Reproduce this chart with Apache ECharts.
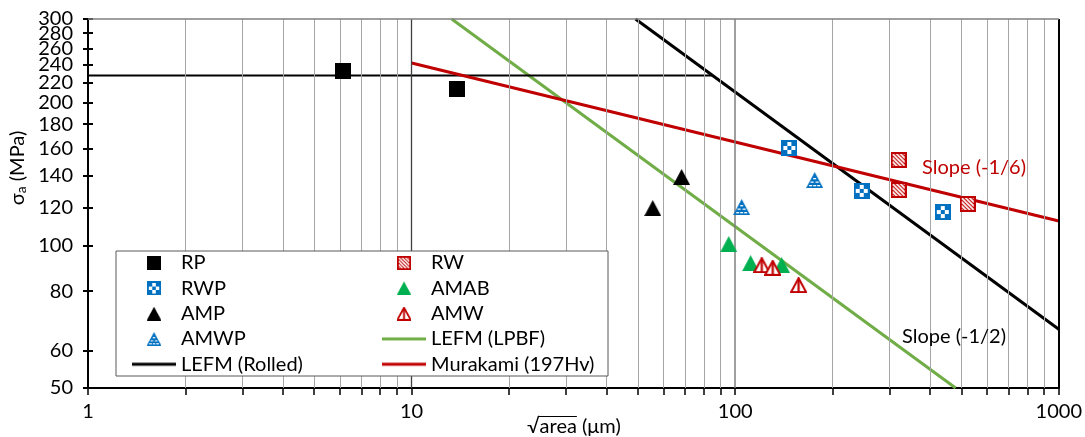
<!DOCTYPE html>
<html><head><meta charset="utf-8">
<script src="https://cdn.jsdelivr.net/npm/echarts@6/dist/echarts.min.js"></script>
<style>html,body{margin:0;padding:0;background:#fff}#c{width:1085px;height:437px}</style>
</head><body><div id="c"></div>
<script>
// ---- data ----
const xLabelValues = [1, 10, 100, 1000];
const xTickValues = [1,2,3,4,5,6,7,8,9,10,20,30,40,50,60,70,80,90,100,200,300,400,500,600,700,800,900,1000];
const xMinorGrid = [2,3,4,5,6,7,8,9,20,30,40,50,60,70,80,90,200,300,400,500,600,700,800,900];
const yTickValues = [50,60,80,100,120,140,160,180,200,220,240,260,280,300];

const RP   = [[6.12,233],[13.8,213.5]];
const RW   = [[320,151.3],[320,130.8],[523,122.2]];
const RWP  = [[147,160.4],[246,130.2],[438,117.5]];
const AMAB = [[95.5,100.6],[111.6,91.7],[139.2,90.8]];
const AMP  = [[55.6,119.8],[68.3,139.3]];
const AMW  = [[120.8,90.8],[130.6,89.6],[157,82.4]];
const AMWP = [[104.7,120.4],[176,137.3]];
const lefmLPBF   = [[13.3,300],[480,50]];
const rolledLimit = [[1,228],[85.2,228]];
const lefmRolled = [[49.2,300],[1000,66.5]];
const murakami   = [[10,242.3],[1000,112.5]];

// ---- styling ----
const FONT = 'Lato, "Open Sans", sans-serif';
const FS = 20;
const BLUE = '#0070C0', RED = '#C00000', GREEN = '#00B050', LGREEN = '#70AD47';

function icon(w, h, draw) {
  const c = document.createElement('canvas');
  c.width = w; c.height = h;
  const g = c.getContext('2d');
  draw(g, w, h);
  return 'image://' + c.toDataURL();
}
function tri(g, w, h, inset) {
  inset = inset || 0;
  g.beginPath();
  g.moveTo(w / 2, inset);
  g.lineTo(w - inset, h - inset);
  g.lineTo(inset, h - inset);
  g.closePath();
}
const symRP = icon(16, 16, (g) => { g.fillStyle = '#000'; g.fillRect(0, 0, 16, 16); });
const symAMP = icon(17, 16, (g, w, h) => { tri(g, w, h); g.fillStyle = '#000'; g.fill(); });
const symAMAB = icon(17, 16, (g, w, h) => { tri(g, w, h); g.fillStyle = GREEN; g.fill(); });
const symRWP = icon(16, 16, (g) => {
  g.fillStyle = BLUE; g.fillRect(0, 0, 16, 16);
  g.fillStyle = '#fff';
  for (let i = 0; i < 3; i++) for (let j = 0; j < 3; j++)
    if ((i + j) % 2 === 1) g.fillRect(2 + i * 4, 2 + j * 4, 4, 4);
});
const symRW = icon(16, 16, (g) => {
  g.fillStyle = RED; g.fillRect(0, 0, 16, 16);
  g.save(); g.beginPath(); g.rect(2, 2, 12, 12); g.clip();
  g.strokeStyle = '#fff'; g.lineWidth = 1.7;
  for (let k = -16; k <= 16; k += 4) { g.beginPath(); g.moveTo(k, 0); g.lineTo(k + 16, 16); g.stroke(); }
  g.restore();
});
const symAMWP = icon(17, 16, (g, w, h) => {
  tri(g, w, h); g.fillStyle = BLUE; g.fill();
  g.fillStyle = '#fff';
  g.fillRect(w / 2 - 1.5, 6, 3, 1.3);
  g.fillRect(w / 2 - 4, 9.5, 3, 1.3); g.fillRect(w / 2 + 1, 9.5, 3, 1.3);
  g.fillRect(w / 2 - 5.5, 13, 3, 1.3); g.fillRect(w / 2 - 1.5, 13, 3, 1.3); g.fillRect(w / 2 + 2.5, 13, 3, 1.3);
});
const symAMW = icon(17, 16, (g, w, h) => {
  tri(g, w, h, 1); g.fillStyle = '#fff'; g.fill();
  g.strokeStyle = RED; g.lineWidth = 2; g.lineJoin = 'miter'; g.stroke();
  g.fillStyle = RED; g.fillRect(w / 2 - 1.1, 2, 2.2, h - 3);
});
function lineIcon(color) {
  return icon(44, 14, (g, w, h) => { g.fillStyle = color; g.fillRect(0, 5.5, w, 3); });
}

// ---- axis name metrics ----
const mc = document.createElement('canvas').getContext('2d');
mc.font = FS + 'px ' + FONT;
const wSq = mc.measureText('\u221A').width, wArea = mc.measureText('area').width, wRest = mc.measureText(' (\u03BCm)').width;
const xNameCx = 574, xNameCy = 427;
const xName0 = xNameCx - (wSq + wArea + wRest) / 2;

const chart = echarts.init(document.getElementById('c'), null, { renderer: 'canvas' });

const gridLines = [];
xMinorGrid.forEach(v => gridLines.push({ xAxis: v, lineStyle: { color: '#a6a6a6', width: 1, type: 'solid' } }));
gridLines.push({ xAxis: 10, lineStyle: { color: '#404040', width: 1.3, type: 'solid' } });
gridLines.push({ xAxis: 100, lineStyle: { color: '#7f7f7f', width: 1.5, type: 'solid' } });
gridLines.push({ xAxis: 1000, lineStyle: { color: '#000', width: 2, type: 'solid' } });
gridLines.push({ yAxis: 300, lineStyle: { color: '#7f7f7f', width: 1.5, type: 'solid' } });

function scatter(name, data, symbol, size) {
  return { name, type: 'scatter', data, symbol, symbolSize: size, z: 5,
    itemStyle: { opacity: 1 }, emphasis: { disabled: true }, animation: false };
}
function line(name, data, color, width) {
  return { name, type: 'line', data, symbol: 'none', showSymbol: false, z: 4,
    lineStyle: { color, width }, itemStyle: { color }, emphasis: { disabled: true }, animation: false };
}

const legendCommon = {
  orient: 'vertical', itemWidth: 44, itemHeight: 14, itemGap: 5.3, padding: 0, z: 11,
  selectedMode: false, textStyle: { fontSize: FS, fontFamily: FONT, color: '#000' }
};
const yLabelStyle = { margin: 15, color: '#000', fontSize: FS, fontFamily: FONT,
  showMinLabel: true, showMaxLabel: true, hideOverlap: false, formatter: (v) => String(Math.round(v)) };
// labels split over two coincident axes so ECharts' min/max overlap check never hides one
const yLabelsA = yTickValues.filter((v, i) => i % 2 === 0);
const yLabelsB = yTickValues.filter((v, i) => i % 2 === 1);

chart.setOption({
  animation: false,
  grid: { left: 88, right: 26, top: 19, bottom: 49, containLabel: false },
  xAxis: {
    type: 'log', logBase: 10, min: 1, max: 1000,
    axisLine: { lineStyle: { color: '#000', width: 2 } },
    axisTick: { customValues: xTickValues, length: 7, lineStyle: { color: '#000', width: 1.5 } },
    axisLabel: { customValues: xLabelValues, margin: 14, color: '#000', fontSize: FS, fontFamily: FONT,
      showMinLabel: true, showMaxLabel: true, formatter: (v) => String(Math.round(v)) },
    splitLine: { show: false }
  },
  yAxis: [{
    type: 'log', logBase: 10, min: 50, max: 300.001,
    axisLine: { show: true, lineStyle: { color: '#000', width: 2 } },
    axisTick: { customValues: yTickValues, length: 5, lineStyle: { color: '#000', width: 2 } },
    axisLabel: Object.assign({ customValues: yLabelsA }, yLabelStyle),
    splitLine: { show: false }
  }, {
    type: 'log', logBase: 10, min: 50, max: 300.001, position: 'left',
    axisLine: { show: false },
    axisTick: { customValues: yTickValues, inside: true, length: 5, lineStyle: { color: '#000', width: 2 } },
    axisLabel: Object.assign({ customValues: yLabelsB }, yLabelStyle),
    splitLine: { show: false }
  }],
  legend: [
    Object.assign({ left: 132, top: 253, data: [
      { name: 'RP', icon: symRP }, { name: 'RWP', icon: symRWP }, { name: 'AMP', icon: symAMP },
      { name: 'AMWP', icon: symAMWP }, { name: 'LEFM (Rolled)', icon: lineIcon('#000') }] }, legendCommon),
    Object.assign({ left: 382, top: 253, data: [
      { name: 'RW', icon: symRW }, { name: 'AMAB', icon: symAMAB }, { name: 'AMW', icon: symAMW },
      { name: 'LEFM (LPBF)', icon: lineIcon(LGREEN) }, { name: 'Murakami (197Hv)', icon: lineIcon(RED) }] }, legendCommon)
  ],
  graphic: [
    { type: 'rect', z: 10, shape: { x: 116, y: 251, width: 492, height: 125 },
      style: { fill: '#fff', stroke: '#595959', lineWidth: 1 } },
    { type: 'text', z: 10, x: 922, y: 168,
      style: { text: 'Slope (-1/6)', fill: RED, font: FS + 'px ' + FONT, textAlign: 'left', textVerticalAlign: 'middle' } },
    { type: 'text', z: 10, x: 902, y: 337,
      style: { text: 'Slope (-1/2)', fill: '#000', font: FS + 'px ' + FONT, textAlign: 'left', textVerticalAlign: 'middle' } },
    { type: 'text', z: 10, x: 18, y: 168, rotation: Math.PI / 2,
      style: { text: '{s|\u03C3}{b|a}{s| (MPa)}', textAlign: 'center', textVerticalAlign: 'middle', fill: '#000',
        rich: { s: { fontSize: FS, fontFamily: FONT, fill: '#000' }, b: { fontSize: 14, fontFamily: FONT, fill: '#000', verticalAlign: 'bottom' } } } },
    { type: 'text', z: 10, x: xName0, y: xNameCy,
      style: { text: '\u221Aarea (\u03BCm)', fill: '#000', font: FS + 'px ' + FONT, textAlign: 'left', textVerticalAlign: 'middle' } },
    { type: 'line', z: 10, shape: { x1: xName0 + wSq - 1, y1: xNameCy - 10.5, x2: xName0 + wSq + wArea, y2: xNameCy - 10.5 },
      style: { stroke: '#000', lineWidth: 1.2 } }
  ],
  series: [
    { name: 'grid', type: 'line', data: [], z: 1, silent: true,
      markLine: { silent: true, symbol: ['none', 'none'], label: { show: false }, animation: false, data: gridLines } },
    line('LEFM (LPBF)', lefmLPBF, LGREEN, 3),
    line('LEFM (Rolled)', lefmRolled, '#000', 3),
    line('LEFM (Rolled)', rolledLimit, '#000', 2),
    line('Murakami (197Hv)', murakami, RED, 3),
    scatter('RP', RP, symRP, 16),
    scatter('RW', RW, symRW, 16),
    scatter('RWP', RWP, symRWP, 16),
    scatter('AMAB', AMAB, symAMAB, [17, 16]),
    scatter('AMP', AMP, symAMP, [17, 16]),
    scatter('AMW', AMW, symAMW, [17, 16]),
    scatter('AMWP', AMWP, symAMWP, [17, 16])
  ]
});
</script>
</body></html>
